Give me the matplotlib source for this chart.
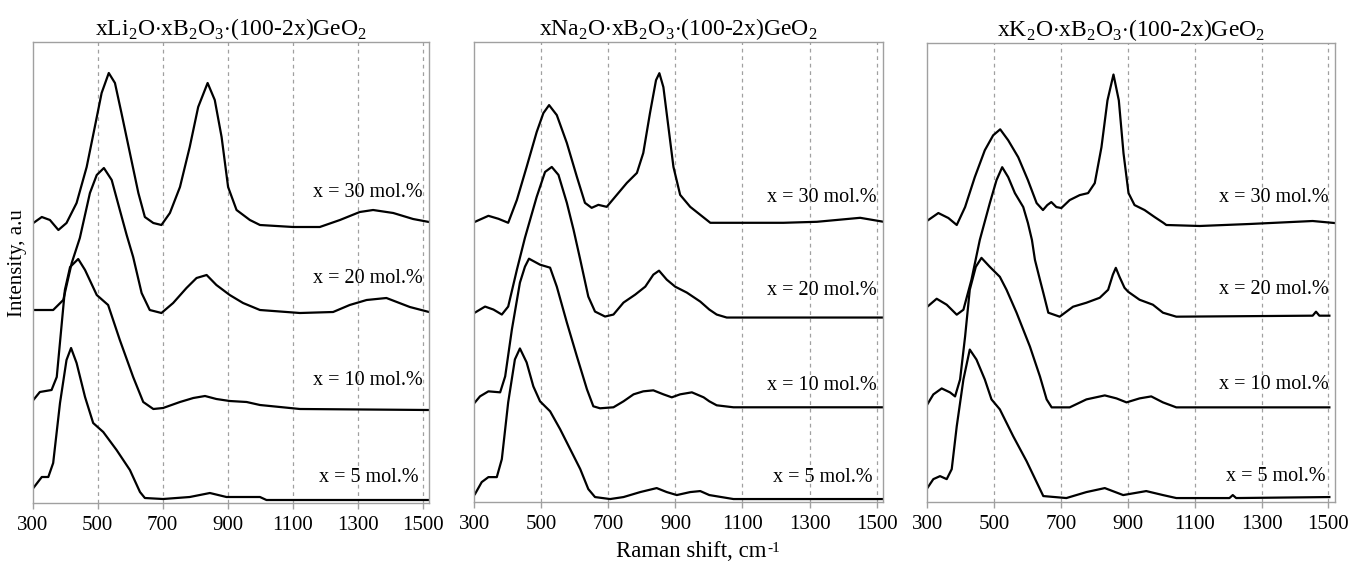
import matplotlib
matplotlib.use("Agg")
import matplotlib.pyplot as plt
from matplotlib.transforms import offset_copy

plt.rcParams["font.family"] = ["Liberation Serif", "DejaVu Serif"]
plt.rcParams["mathtext.fontset"] = "custom"
plt.rcParams["mathtext.rm"] = "Liberation Serif"

# Raman shift (cm-1) / intensity (arb. units, curves already offset)
LI_30_W = [302, 328, 353, 379, 404, 435, 466, 491, 512, 534, 553, 573, 599, 625, 645, 671, 696, 722, 753, 783,
           809, 838, 860, 881, 901, 927, 968, 999, 1101, 1183, 1245, 1306, 1347, 1409, 1470, 1519]
LI_30_I = [280, 286, 283, 273, 280, 300, 336, 376, 410, 430, 420, 390, 350, 310, 286, 280, 278, 290, 316, 356,
           396, 420, 403, 366, 316, 293, 283, 278, 276, 276, 283, 291, 293, 290, 284, 281]
LI_20_W = [302, 363, 394, 420, 445, 476, 497, 519, 543, 568, 589, 609, 635, 660, 696, 732, 773, 804, 835, 865,
           906, 947, 999, 1122, 1224, 1275, 1327, 1388, 1460, 1519]
LI_20_I = [193, 193, 203, 240, 265, 310, 328, 335, 323, 293, 268, 246, 210, 193, 190, 200, 215, 225, 228, 218,
           208, 200, 193, 190, 191, 198, 203, 205, 196, 191]
LI_10_W = [302, 322, 358, 374, 399, 415, 440, 461, 497, 532, 568, 609, 640, 671, 701, 753, 794, 830, 865, 906,
           958, 999, 1122, 1519]
LI_10_I = [103, 111, 113, 126, 213, 236, 244, 233, 208, 198, 163, 126, 101, 94, 95, 101, 105, 107, 104, 102,
           101, 98, 94, 93]
LI_5_W = [302, 328, 348, 363, 384, 404, 418, 435, 461, 486, 517, 558, 599, 630, 645, 701, 783, 845, 896, 999,
          1019, 1519]
LI_5_I = [15, 26, 26, 40, 100, 143, 155, 140, 106, 80, 71, 53, 33, 11, 5, 4, 6, 10, 6, 6, 3, 3]

NA_30_W = [302, 342, 372, 401, 427, 456, 486, 506, 523, 546, 576, 606, 630, 650, 670, 695, 725, 755, 785, 804,
           824, 842, 852, 864, 879, 894, 914, 944, 974, 1004, 1103, 1222, 1322, 1451, 1521]
NA_30_I = [281, 287, 284, 280, 303, 336, 371, 390, 398, 388, 360, 326, 300, 295, 298, 296, 308, 320, 330, 350,
           390, 423, 430, 416, 376, 336, 308, 296, 288, 280, 280, 280, 281, 285, 281]
NA_20_W = [302, 332, 357, 382, 401, 427, 451, 486, 511, 531, 551, 576, 596, 616, 640, 660, 690, 715, 745, 780,
           810, 834, 851, 874, 899, 934, 974, 1001, 1023, 1053, 1521]
NA_20_I = [190, 196, 193, 188, 196, 233, 265, 306, 331, 336, 328, 300, 273, 243, 206, 191, 186, 188, 200, 208,
           216, 228, 232, 223, 216, 210, 201, 193, 188, 185, 185]
NA_10_W = [302, 317, 342, 377, 392, 412, 436, 451, 463, 496, 526, 546, 576, 606, 636, 655, 675, 715, 745, 775,
           804, 834, 864, 889, 914, 949, 984, 1001, 1023, 1073, 1521]
NA_10_I = [100, 106, 111, 110, 126, 173, 220, 236, 244, 238, 235, 216, 180, 146, 113, 96, 94, 95, 101, 108,
           111, 112, 108, 105, 108, 110, 105, 101, 97, 95, 95]
NA_5_W = [302, 322, 342, 367, 382, 401, 421, 436, 456, 476, 496, 526, 556, 586, 616, 640, 660, 705, 745, 795,
          844, 874, 904, 944, 974, 1001, 1073, 1521]
NA_5_I = [8, 20, 25, 25, 43, 100, 143, 154, 140, 116, 101, 91, 73, 53, 33, 13, 5, 3, 5, 10, 14, 10, 7, 10, 11, 7,
          3, 3]

K_30_W = [303, 333, 363, 388, 413, 442, 472, 497, 518, 542, 572, 601, 627, 646, 659, 671, 686, 701, 726, 756,
          781, 801, 821, 839, 857, 873, 887, 902, 920, 950, 980, 1007, 1015, 1115, 1264, 1453, 1518]
K_30_I = [283, 290, 285, 278, 296, 326, 353, 368, 374, 363, 346, 323, 300, 293, 298, 301, 296, 295, 303, 308,
          310, 320, 356, 403, 429, 403, 350, 310, 298, 293, 286, 280, 278, 277, 279, 282, 280]
K_20_W = [300, 328, 358, 388, 408, 432, 457, 487, 507, 524, 542, 562, 587, 601, 613, 622, 637, 647, 662, 696,
          736, 776, 816, 841, 855, 864, 875, 890, 901, 935, 975, 1005, 1045, 1453, 1463, 1473, 1503]
K_20_I = [196, 204, 198, 188, 193, 223, 263, 300, 323, 336, 326, 310, 296, 280, 263, 243, 223, 210, 190, 186,
          196, 200, 205, 213, 228, 235, 226, 215, 211, 203, 198, 190, 186, 187, 191, 187, 187]
K_10_W = [300, 318, 343, 368, 383, 398, 413, 427, 445, 462, 487, 517, 537, 567, 607, 637, 657, 672, 726, 776,
          831, 866, 896, 935, 970, 1005, 1045, 1503]
K_10_I = [98, 108, 114, 110, 106, 123, 166, 213, 236, 245, 236, 226, 213, 190, 156, 126, 103, 95, 95, 103,
          107, 104, 100, 104, 106, 100, 95, 95]
K_5_W = [300, 318, 338, 358, 373, 388, 408, 427, 447, 472, 492, 517, 557, 597, 627, 647, 716, 776, 831, 886,
         955, 1005, 1045, 1204, 1214, 1224, 1503]
K_5_I = [14, 23, 26, 23, 33, 76, 123, 153, 143, 123, 103, 93, 66, 41, 20, 6, 4, 10, 14, 7, 11, 7, 4, 4, 7, 4, 5]

TITLES = [
    r"xLi$_\mathregular{2}$O$\cdot$xB$_\mathregular{2}$O$_\mathregular{3}$$\cdot$(100-2x)GeO$_\mathregular{2}$",
    r"xNa$_\mathregular{2}$O$\cdot$xB$_\mathregular{2}$O$_\mathregular{3}$$\cdot$(100-2x)GeO$_\mathregular{2}$",
    r"xK$_\mathregular{2}$O$\cdot$xB$_\mathregular{2}$O$_\mathregular{3}$$\cdot$(100-2x)GeO$_\mathregular{2}$",
]
SERIES_LABELS = ["x = 30 mol.%", "x = 20 mol.%", "x = 10 mol.%", "x = 5 mol.%"]
X_TICKS = [300, 500, 700, 900, 1100, 1300, 1500]

PANELS = [
    [(LI_30_W, LI_30_I), (LI_20_W, LI_20_I), (LI_10_W, LI_10_I), (LI_5_W, LI_5_I)],
    [(NA_30_W, NA_30_I), (NA_20_W, NA_20_I), (NA_10_W, NA_10_I), (NA_5_W, NA_5_I)],
    [(K_30_W, K_30_I), (K_20_W, K_20_I), (K_10_W, K_10_I), (K_5_W, K_5_I)],
]
# label anchor (right edge) in data coords for each panel
LABEL_POS = [
    [(1499, 310), (1499, 225), (1499, 123), (1487, 26)],
    [(1500, 305), (1500, 212), (1500, 117), (1488, 25)],
    [(1500, 306), (1500, 213), (1500, 118), (1491, 26)],
]
AX_RECTS = [
    [0.0242, 0.1113, 0.2936, 0.8145],
    [0.3511, 0.1130, 0.3027, 0.8123],
    [0.6864, 0.1130, 0.3018, 0.8117],
]

fig = plt.figure(figsize=(13.51, 5.66), dpi=100)
grey = "#a0a0a0"

for rect, title, curves, label_pos in zip(AX_RECTS, TITLES, PANELS, LABEL_POS):
    ax = fig.add_axes(rect)
    for (w, inten), name, (lx, ly) in zip(curves, SERIES_LABELS, label_pos):
        ax.plot(w, inten, color="black", linewidth=1.6)
        ax.text(lx, ly, name, ha="right", va="center", fontsize=14.5)
    ax.set_xlim(300, 1520)
    ax.set_ylim(0, 461)
    ax.set_xticks(X_TICKS)
    ax.set_yticks([])
    ax.tick_params(axis="x", labelsize=15, color=grey, length=4, width=1, pad=5)
    for x in X_TICKS[1:]:
        ax.axvline(x, color=grey, linestyle=(0, (3, 3)), linewidth=0.9, zorder=0)
    for spine in ax.spines.values():
        spine.set_color(grey)
        spine.set_linewidth(1.0)
    ax.set_title(title, fontsize=17, pad=3)

fig.text(0.0128, 0.535, "Intensity, a.u", rotation=90, ha="center", va="center", fontsize=15)

# x label with a plain hyphen in the superscript, as in the original
xl = fig.text(0.512, 0.025, "Raman shift, cm", ha="center", va="center", fontsize=16.5)
renderer = fig.canvas.get_renderer()
bb = xl.get_window_extent(renderer)
fig.text(bb.x1 / fig.bbox.width + 0.0005, bb.y1 / fig.bbox.height - 0.012, "-1",
         ha="left", va="center", fontsize=11)

fig.savefig("out.png", dpi=100)
